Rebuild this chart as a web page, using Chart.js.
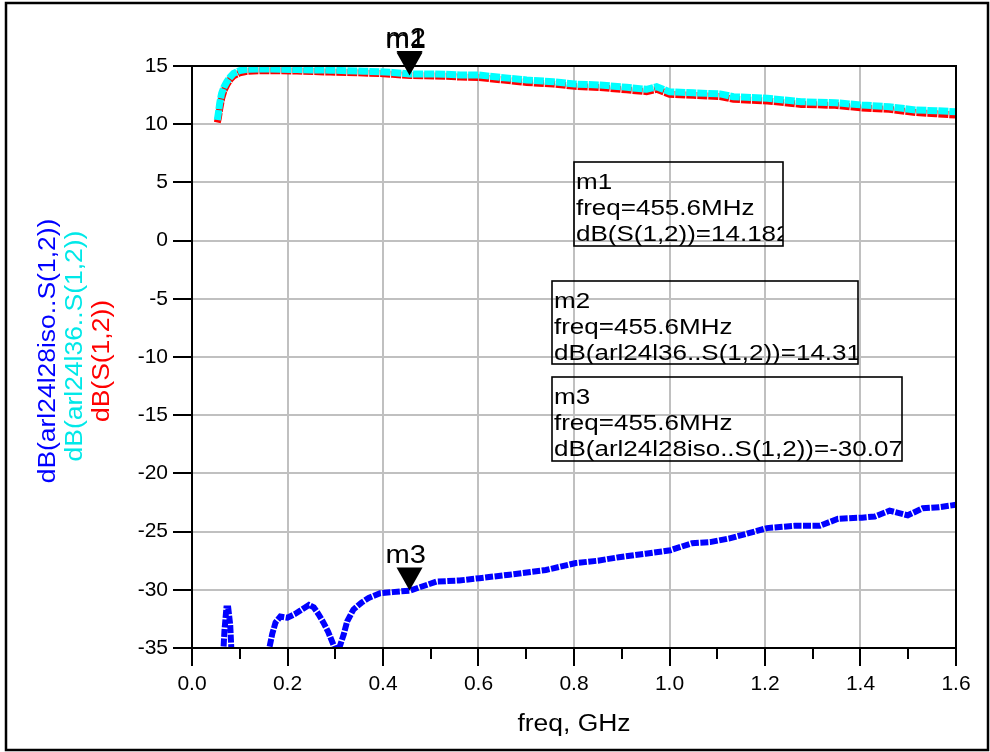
<!DOCTYPE html>
<html>
<head>
<meta charset="utf-8">
<script src="https://cdn.jsdelivr.net/npm/chart.js@4.4.1/dist/chart.umd.min.js"></script>
<style>
  html, body { margin: 0; padding: 0; background: #ffffff; }
  canvas { display: block; }
</style>
</head>
<body>
<canvas id="c" width="990" height="752"></canvas>
<script>
// ---------- data ----------
const freqUp = [0.053,0.055,0.058,0.062,0.067,0.073,0.080,0.087,0.100,0.115,0.150,0.184,0.220,0.254,0.290,0.324,0.360,0.394,0.420,0.456,0.490,0.533,0.561,0.600,0.645,0.701,0.757,0.802,0.855,0.910,0.952,0.973,1.000,1.050,1.106,1.134,1.205,1.276,1.347,1.403,1.460,1.516,1.558,1.600];
// dB(arl24l36..S(1,2))  (cyan)
const dB_arl24l36 = [10.36,10.9,11.8,12.65,13.2,13.65,14.05,14.37,14.6,14.72,14.74,14.72,14.7,14.66,14.64,14.6,14.55,14.51,14.45,14.31,14.32,14.29,14.23,14.23,14.03,13.8,13.65,13.45,13.37,13.17,13.0,13.22,12.79,12.7,12.6,12.36,12.23,11.93,11.85,11.65,11.5,11.22,11.16,11.07];
// dB(S(1,2))  (red)
const dB_S12 = [10.15,10.5,11.3,12.2,12.9,13.4,13.85,14.15,14.42,14.55,14.6,14.6,14.57,14.52,14.48,14.45,14.4,14.35,14.28,14.18,14.17,14.12,14.05,14.02,13.82,13.58,13.45,13.25,13.15,12.95,12.8,13.0,12.58,12.48,12.38,12.14,12.0,11.7,11.62,11.4,11.28,11.0,10.9,10.78];
// dB(arl24l28iso..S(1,2))  (blue); null = curve below the axis range
const freqIso = [0.064,0.068,0.072,0.076,0.080,0.084,0.120,0.156,0.162,0.168,0.175,0.185,0.200,0.215,0.230,0.245,0.255,0.265,0.275,0.285,0.295,0.302,0.310,0.318,0.325,0.338,0.355,0.370,0.394,0.420,0.456,0.512,0.560,0.602,0.665,0.741,0.804,0.850,0.894,0.950,1.002,1.047,1.085,1.124,1.160,1.204,1.262,1.315,1.353,1.403,1.430,1.461,1.499,1.530,1.565,1.600];
const dB_arl24l28iso = [-36.5,-33.5,-31.6,-31.6,-33.0,-36.5,null,-36.5,-35.0,-33.8,-32.8,-32.3,-32.4,-32.1,-31.7,-31.3,-31.5,-32.1,-32.8,-33.6,-34.6,-35.3,-34.8,-33.8,-32.7,-31.7,-31.1,-30.7,-30.3,-30.2,-30.07,-29.3,-29.2,-29.0,-28.7,-28.3,-27.7,-27.5,-27.2,-26.9,-26.6,-26.0,-25.9,-25.6,-25.2,-24.7,-24.5,-24.5,-23.9,-23.8,-23.7,-23.2,-23.6,-23.0,-22.9,-22.7];

const xTicks = [0.0,0.2,0.4,0.6,0.8,1.0,1.2,1.4,1.6];
const yTicks = [15,10,5,0,-5,-10,-15,-20,-25,-30,-35];

// markers
const markerNames = ['m2','m1','m3'];
const markerFreqMHz = [455.6, 455.6, 455.6];
const markerValues = [14.31, 14.18, -30.07];
const markerExprs = ['dB(arl24l36..S(1,2))', 'dB(S(1,2))', 'dB(arl24l28iso..S(1,2))'];
const markerValueText = ['14.31', '14.182', '-30.07'];

const yTitles = ['dB(arl24l28iso..S(1,2))', 'dB(arl24l36..S(1,2))', 'dB(S(1,2))'];
const xTitle = 'freq, GHz';

// ---------- helpers ----------
const FONT = '"Liberation Sans", Arial, sans-serif';
function pts(xs, ys) { return xs.map((x, i) => ({ x: x, y: ys[i] })); }

function sText(ctx, s, x, y, size, color, sx, align) {
  ctx.save();
  ctx.translate(x, y);
  ctx.scale(sx, 1);
  ctx.font = size + 'px ' + FONT;
  ctx.fillStyle = color;
  ctx.textAlign = align || 'left';
  ctx.textBaseline = 'alphabetic';
  ctx.fillText(s, 0, 0);
  ctx.restore();
}

const deco = {
  id: 'deco',
  afterDraw(chart) {
    const ctx = chart.ctx;
    const ca = chart.chartArea;
    const xs = chart.scales.x, ys = chart.scales.y;

    // plot frame
    ctx.save();
    ctx.strokeStyle = '#000';
    ctx.lineWidth = 2;
    ctx.strokeRect(ca.left, ca.top, ca.right - ca.left, ca.bottom - ca.top);

    // minor x ticks
    for (let k = 0; k < xTicks.length - 1; k++) {
      const v = (xTicks[k] + xTicks[k + 1]) / 2;
      const px = Math.round(xs.getPixelForValue(v));
      ctx.beginPath();
      ctx.moveTo(px, ca.bottom);
      ctx.lineTo(px, ca.bottom + 11);
      ctx.stroke();
    }

    // outer frame
    ctx.lineWidth = 2.5;
    ctx.strokeRect(6, 3, 982, 747);
    ctx.restore();

    // y titles (rotated, coloured)
    const yCols = ['#0000ff', '#00e8e8', '#ff0000'];
    const yCx = [49, 76, 103];
    const yCy = [351, 346, 361];
    for (let i = 0; i < yTitles.length; i++) {
      ctx.save();
      ctx.translate(yCx[i], yCy[i]);
      ctx.rotate(-Math.PI / 2);
      ctx.scale(1.15, 1);
      ctx.font = '23px ' + FONT;
      ctx.fillStyle = yCols[i];
      ctx.textAlign = 'center';
      ctx.textBaseline = 'middle';
      ctx.fillText(yTitles[i], 0, 0);
      ctx.restore();
    }

    // x title
    sText(ctx, xTitle, (ca.left + ca.right) / 2, 731, 23, '#000', 1.15, 'center');

    // marker triangles + names
    for (let i = 0; i < markerNames.length; i++) {
      const px = xs.getPixelForValue(markerFreqMHz[i] / 1000);
      const py = ys.getPixelForValue(markerValues[i]);
      ctx.save();
      ctx.fillStyle = '#000';
      ctx.beginPath();
      ctx.moveTo(px, py);
      ctx.lineTo(px - 13, py - 23);
      ctx.lineTo(px + 13, py - 23);
      ctx.closePath();
      ctx.fill();
      ctx.restore();
      sText(ctx, markerNames[i], px - 24, py - 28, 26, '#000', 1.12, 'left');
    }

    // marker boxes
    const boxes = [
      { i: 1, x: 574, y: 162, w: 209, h: 84 },
      { i: 0, x: 552, y: 281, w: 306, h: 83 },
      { i: 2, x: 552, y: 377, w: 350, h: 84 }
    ];
    for (const b of boxes) {
      const i = b.i;
      ctx.save();
      ctx.strokeStyle = '#000';
      ctx.lineWidth = 1.6;
      ctx.strokeRect(b.x, b.y, b.w, b.h);
      ctx.beginPath();
      ctx.rect(b.x, b.y, b.w, b.h);
      ctx.clip();
      const lines = [markerNames[i], 'freq=' + markerFreqMHz[i].toFixed(1) + 'MHz', markerExprs[i] + '=' + markerValueText[i]];
      for (let k = 0; k < 3; k++) {
        sText(ctx, lines[k], b.x + 2, b.y + 27 + k * 26, 22.5, '#000', 1.155, 'left');
      }
      ctx.restore();
    }
  }
};

new Chart(document.getElementById('c'), {
  type: 'line',
  data: {
    datasets: [
      {
        label: yTitles[0],
        data: pts(freqIso, dB_arl24l28iso),
        borderColor: '#0000ff',
        borderWidth: 6,
        borderDash: [8, 1.5],
        pointRadius: 0,
        spanGaps: false,
        tension: 0,
        order: 3
      },
      {
        label: yTitles[2],
        data: pts(freqUp, dB_S12),
        borderColor: '#ff0000',
        borderWidth: 7,
        borderDash: [10, 1],
        pointRadius: 0,
        tension: 0,
        order: 2
      },
      {
        label: yTitles[1],
        data: pts(freqUp, dB_arl24l36),
        borderColor: '#00ffff',
        borderWidth: 7,
        borderDash: [10, 1],
        pointRadius: 0,
        tension: 0,
        order: 1
      }
    ]
  },
  options: {
    responsive: false,
    animation: false,
    devicePixelRatio: 1,
    layout: { padding: { left: 0, right: 34, top: 66, bottom: 0 } },
    plugins: { legend: { display: false }, tooltip: { enabled: false }, title: { display: false } },
    scales: {
      x: {
        type: 'linear',
        min: 0, max: 1.6,
        afterFit(s) { s.height = 104; },
        afterBuildTicks(s) { s.ticks = xTicks.map(v => ({ value: v })); },
        ticks: {
          callback: v => Number(v).toFixed(1),
          color: '#000',
          font: { family: FONT, size: 21 },
          padding: 6,
          maxRotation: 0,
          autoSkip: false
        },
        grid: { color: '#c0c0c0', lineWidth: 2, tickColor: '#000', tickWidth: 2, tickLength: 18, drawTicks: true },
        border: { color: '#000', width: 2 }
      },
      y: {
        type: 'linear',
        min: -35, max: 15,
        afterFit(s) { s.width = 192; },
        afterBuildTicks(s) { s.ticks = yTicks.map(v => ({ value: v })); },
        ticks: {
          callback: v => String(v),
          color: '#000',
          font: { family: FONT, size: 21 },
          padding: 5,
          autoSkip: false
        },
        grid: { color: '#c0c0c0', lineWidth: 2, tickColor: '#000', tickWidth: 2, tickLength: 19, drawTicks: true },
        border: { color: '#000', width: 2 }
      }
    }
  },
  plugins: [deco]
});
</script>
</body>
</html>
